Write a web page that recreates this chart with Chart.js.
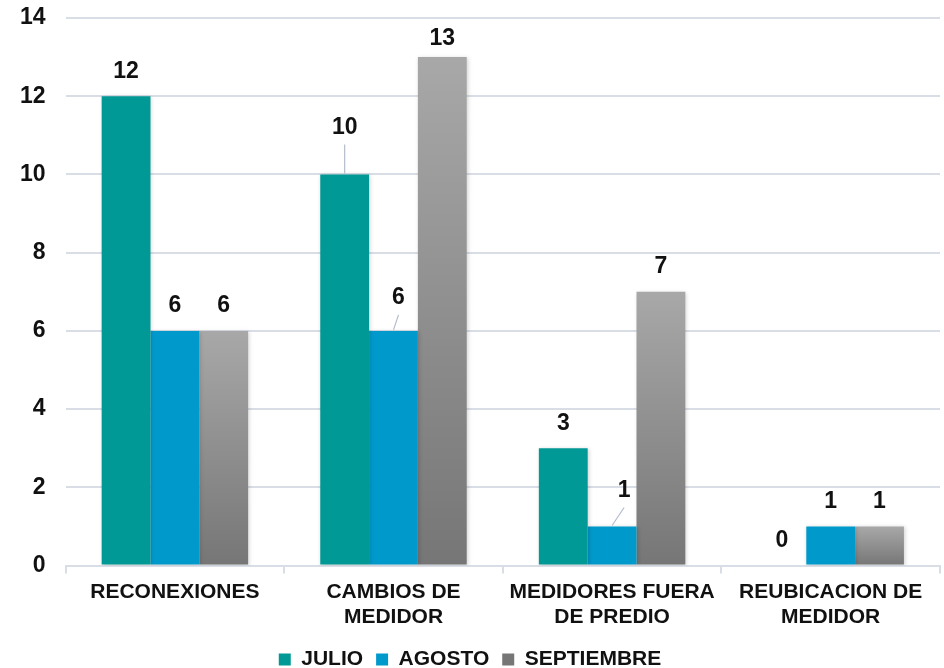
<!DOCTYPE html>
<html>
<head>
<meta charset="utf-8">
<script src="https://cdn.jsdelivr.net/npm/chart.js@4/dist/chart.umd.min.js"></script>
<style>
  html, body { margin: 0; padding: 0; background: #fff; }
  #wrap { width: 944px; height: 668px; }
</style>
</head>
<body>
<div id="wrap"><canvas id="chart" width="944" height="668"></canvas></div>
<script>
var categories = [['RECONEXIONES'], ['CAMBIOS DE', 'MEDIDOR'], ['MEDIDORES FUERA', 'DE PREDIO'], ['REUBICACION DE', 'MEDIDOR']];
var julio = [12, 10, 3, 0];
var agosto = [6, 6, 1, 1];
var septiembre = [6, 13, 7, 1];
var yTicks = [0, 2, 4, 6, 8, 10, 12, 14];

var FONT = '"Liberation Sans", Arial, sans-serif';

function grayGradient(ctx) {
    var chart = ctx.chart;
    if (!chart.chartArea || ctx.raw === undefined) return '#959595';
    var y = chart.scales.y;
    var top = y.getPixelForValue(ctx.raw);
    var base = y.getPixelForValue(0);
    if (base - top < 1) return '#a0a0a0';
    var g = chart.ctx.createLinearGradient(0, top, 0, base);
    g.addColorStop(0, '#a8a8a8');
    g.addColorStop(1, '#767676');
    return g;
}

// value labels above the bars, a few moved up with a thin leader line
var valueLabels = {
    id: 'valueLabels',
    afterDatasetsDraw: function(chart, args, opts) {
        var ctx = chart.ctx;
        ctx.save();
        ctx.font = 'bold 23px ' + FONT;
        ctx.fillStyle = '#111';
        ctx.textAlign = 'center';
        ctx.textBaseline = 'middle';
        chart.data.datasets.forEach(function(ds, di) {
            var meta = chart.getDatasetMeta(di);
            meta.data.forEach(function(bar, i) {
                var key = di + '-' + i;
                var lead = opts.leaders[key];
                var x = bar.x, y = bar.y - 25;
                if (ds.data[i] === 13) y = bar.y - 18;
                if (lead) {
                    x = bar.x + lead[0];
                    y = bar.y + lead[1];
                    ctx.strokeStyle = '#b4bccb';
                    ctx.lineWidth = 1.2;
                    ctx.beginPath();
                    ctx.moveTo(x, y + 17);
                    ctx.lineTo(bar.x, bar.y - 1);
                    ctx.stroke();
                }
                ctx.fillText(String(ds.data[i]), x, y);
            });
        });
        ctx.restore();
    }
};

var barShadow = {
    id: 'barShadow',
    beforeDatasetsDraw: function(chart) {
        chart.ctx.save();
        chart.ctx.shadowColor = 'rgba(0,0,0,0.18)';
        chart.ctx.shadowBlur = 4;
        chart.ctx.shadowOffsetX = 1;
        chart.ctx.shadowOffsetY = 1;
    },
    afterDatasetsDraw: function(chart) {
        chart.ctx.restore();
    }
};

new Chart(document.getElementById('chart'), {
    type: 'bar',
    data: {
        labels: categories,
        datasets: [
            { label: 'JULIO', data: julio, backgroundColor: '#009995', barPercentage: 1, categoryPercentage: 0.67 },
            { label: 'AGOSTO', data: agosto, backgroundColor: '#0099cb', barPercentage: 1, categoryPercentage: 0.67 },
            { label: 'SEPTIEMBRE', data: septiembre, backgroundColor: grayGradient, barPercentage: 1, categoryPercentage: 0.67 }
        ]
    },
    options: {
        responsive: false,
        animation: false,
        devicePixelRatio: 1,
        layout: { padding: { top: 18, right: 4, left: 0, bottom: -12 } },
        plugins: {
            tooltip: { enabled: false },
            legend: {
                position: 'bottom',
                labels: {
                    font: { family: FONT, size: 21, weight: 'bold' },
                    color: '#111',
                    boxWidth: 12,
                    boxHeight: 12,
                    padding: 13
                }
            },
            valueLabels: {
                leaders: { '0-1': [0, -47], '1-1': [5, -33], '1-2': [12, -36] }
            }
        },
        scales: {
            x: {
                grid: { drawOnChartArea: false, offset: true, tickLength: 8, color: '#d9dde6', lineWidth: 2 },
                border: { color: '#d9dde6', width: 2 },
                ticks: {
                    font: { family: FONT, size: 21, weight: 'bold', lineHeight: 1.2 },
                    color: '#111',
                    maxRotation: 0,
                    padding: 6
                }
            },
            y: {
                min: 0,
                max: 14,
                afterBuildTicks: function(axis) {
                    axis.ticks = yTicks.map(function(v) { return { value: v }; });
                },
                afterFit: function(axis) {
                    axis.paddingTop = 0;
                    axis.paddingBottom = 0;
                },
                grid: { color: '#d9dde6', lineWidth: 2, drawTicks: false },
                border: { display: false },
                ticks: {
                    font: { family: FONT, size: 23, weight: 'bold' },
                    color: '#111',
                    padding: 20
                }
            }
        }
    },
    plugins: [barShadow, valueLabels]
});
</script>
</body>
</html>
